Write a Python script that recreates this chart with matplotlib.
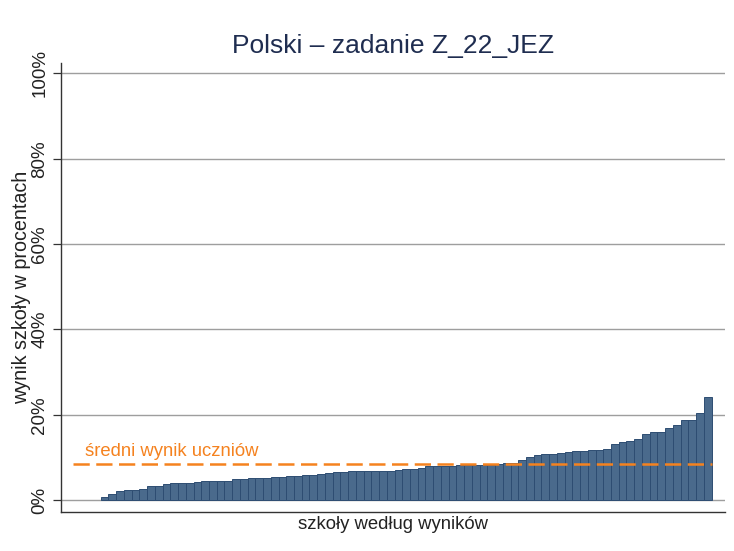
import numpy as np
import matplotlib
matplotlib.use("Agg")
import matplotlib.pyplot as plt

plt.rcParams["font.family"] = ["Liberation Sans", "DejaVu Sans"]

# wyniki szkol (posortowane), w procentach
school_scores = [
    0.7, 1.4, 2.1, 2.3, 2.3, 2.6, 3.2, 3.4, 3.7, 3.9,
    4.1, 4.1, 4.3, 4.4, 4.5, 4.5, 4.5, 4.9, 4.9, 5.1,
    5.2, 5.2, 5.3, 5.5, 5.6, 5.8, 5.7, 5.9, 6.0, 6.3,
    6.6, 6.6, 6.7, 6.7, 6.7, 6.9, 6.9, 6.9, 7.0, 7.2,
    7.2, 7.5, 7.9, 7.9, 7.9, 8.0, 8.2, 8.2, 8.2, 8.2,
    8.3, 8.4, 8.7, 8.75, 9.4, 10.1, 10.5, 10.9, 10.9, 11.0,
    11.25, 11.5, 11.5, 11.8, 11.8, 12.0, 13.2, 13.6, 13.9, 14.2,
    15.4, 15.9, 16.0, 16.9, 17.6, 18.7, 18.7, 20.5, 24.2,
]
school_scores = sorted(school_scores)
mean_score = 8.4

title = "Polski \u2013 zadanie Z_22_JEZ"
y_ticks = [0, 20, 40, 60, 80, 100]
y_tick_labels = ["0%", "20%", "40%", "60%", "80%", "100%"]

x = np.arange(1, len(school_scores) + 1)

fig = plt.figure(figsize=(7.34, 5.51), dpi=100)
ax = fig.add_axes([0.0831, 0.0708, 0.9042, 0.8154])

for yt in y_ticks:
    ax.axhline(yt, color="#9e9e9e", linewidth=1.0, zorder=0)

ax.bar(x, school_scores, width=1.0, color="#4a6a8c",
       edgecolor="#2e4d72", linewidth=0.7, zorder=2)

ax.plot([-3.05, 79.5], [mean_score, mean_score], color="#f5821f",
        linewidth=1.8, dashes=(6.5, 2.6), zorder=3)
ax.text(-1.55, mean_score + 0.9, "średni wynik uczniów", color="#f5821f",
        fontsize=13.3, va="bottom", ha="left")

ax.set_xlim(-4.64, 81.2)
ax.set_ylim(-2.8, 102.5)
ax.set_xticks([])
ax.set_yticks(y_ticks)
ax.set_yticklabels(y_tick_labels, rotation=90, va="center",
                   fontsize=13.5, color="#222222")
ax.tick_params(axis="y", length=6, width=0.9, color="#333333", pad=3)

for side in ["top", "right"]:
    ax.spines[side].set_visible(False)
for side in ["left", "bottom"]:
    ax.spines[side].set_color("#333333")
    ax.spines[side].set_linewidth(1.0)

ax.set_xlabel("szkoły według wyników", fontsize=13.3, color="#222222",
              labelpad=3)
ax.set_ylabel("wynik szkoły w procentach", fontsize=14.2, color="#222222",
              labelpad=0)
ax.set_title(title, fontsize=19, color="#1f2d50", pad=7)

fig.savefig("out.png", dpi=100)
